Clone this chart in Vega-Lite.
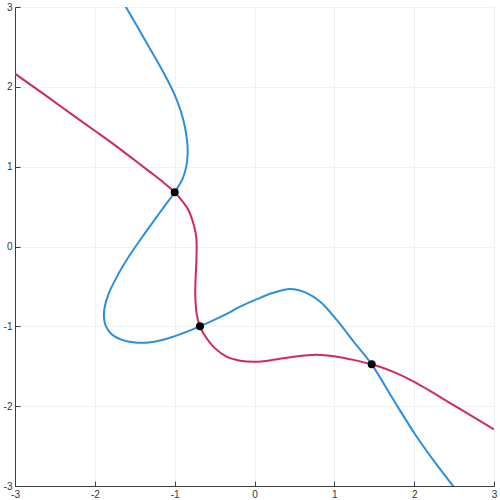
{
  "$schema": "https://vega.github.io/schema/vega-lite/v6.json",
  "width": 479,
  "height": 479,
  "autosize": {"type": "none"},
  "padding": {"left": 15, "top": 7, "right": 6, "bottom": 14},
  "background": "white",
  "config": {
    "view": {"stroke": null},
    "axis": {
      "grid": true,
      "gridColor": "#f1f1f1",
      "gridWidth": 1,
      "domainColor": "#3c3c3c",
      "domainWidth": 1,
      "tickColor": "#3c3c3c",
      "tickSize": -5,
      "labelPadding": 8,
      "labelFont": "Liberation Sans",
      "labelFontSize": 10,
      "labelColor": "#333333",
      "labelFlush": false,
      "labelOverlap": false,
      "labelBound": false,
      "title": null
    }
  },
  "datasets": {
    "curves": [
      {"curve": "red", "t": 0, "x": -3.0, "y": 2.165},
      {"curve": "red", "t": 1, "x": -2.6, "y": 1.88},
      {"curve": "red", "t": 2, "x": -2.31, "y": 1.67},
      {"curve": "red", "t": 3, "x": -2.0, "y": 1.45},
      {"curve": "red", "t": 4, "x": -1.75, "y": 1.27},
      {"curve": "red", "t": 5, "x": -1.5, "y": 1.08},
      {"curve": "red", "t": 6, "x": -1.31, "y": 0.935},
      {"curve": "red", "t": 7, "x": -1.15, "y": 0.81},
      {"curve": "red", "t": 8, "x": -1.0, "y": 0.68},
      {"curve": "red", "t": 9, "x": -0.93, "y": 0.6},
      {"curve": "red", "t": 10, "x": -0.83, "y": 0.46},
      {"curve": "red", "t": 11, "x": -0.755, "y": 0.25},
      {"curve": "red", "t": 12, "x": -0.728, "y": 0.1},
      {"curve": "red", "t": 13, "x": -0.727, "y": -0.15},
      {"curve": "red", "t": 14, "x": -0.738, "y": -0.4},
      {"curve": "red", "t": 15, "x": -0.742, "y": -0.6},
      {"curve": "red", "t": 16, "x": -0.725, "y": -0.84},
      {"curve": "red", "t": 17, "x": -0.683, "y": -1.0},
      {"curve": "red", "t": 18, "x": -0.6, "y": -1.15},
      {"curve": "red", "t": 19, "x": -0.5, "y": -1.27},
      {"curve": "red", "t": 20, "x": -0.35, "y": -1.38},
      {"curve": "red", "t": 21, "x": -0.18, "y": -1.43},
      {"curve": "red", "t": 22, "x": 0.0, "y": -1.443},
      {"curve": "red", "t": 23, "x": 0.235, "y": -1.42},
      {"curve": "red", "t": 24, "x": 0.486, "y": -1.38},
      {"curve": "red", "t": 25, "x": 0.78, "y": -1.355},
      {"curve": "red", "t": 26, "x": 1.03, "y": -1.38},
      {"curve": "red", "t": 27, "x": 1.24, "y": -1.42},
      {"curve": "red", "t": 28, "x": 1.468, "y": -1.476},
      {"curve": "red", "t": 29, "x": 1.74, "y": -1.57},
      {"curve": "red", "t": 30, "x": 1.99, "y": -1.69},
      {"curve": "red", "t": 31, "x": 2.5, "y": -1.99},
      {"curve": "red", "t": 32, "x": 3.0, "y": -2.29},
      {"curve": "blue", "t": 0, "x": -1.64, "y": 3.05},
      {"curve": "blue", "t": 1, "x": -1.35, "y": 2.55},
      {"curve": "blue", "t": 2, "x": -1.14, "y": 2.18},
      {"curve": "blue", "t": 3, "x": -1.0, "y": 1.9},
      {"curve": "blue", "t": 4, "x": -0.925, "y": 1.7},
      {"curve": "blue", "t": 5, "x": -0.872, "y": 1.5},
      {"curve": "blue", "t": 6, "x": -0.842, "y": 1.3},
      {"curve": "blue", "t": 7, "x": -0.838, "y": 1.15},
      {"curve": "blue", "t": 8, "x": -0.855, "y": 1.0},
      {"curve": "blue", "t": 9, "x": -0.9, "y": 0.85},
      {"curve": "blue", "t": 10, "x": -1.0, "y": 0.68},
      {"curve": "blue", "t": 11, "x": -1.16, "y": 0.46},
      {"curve": "blue", "t": 12, "x": -1.37, "y": 0.17},
      {"curve": "blue", "t": 13, "x": -1.57, "y": -0.12},
      {"curve": "blue", "t": 14, "x": -1.73, "y": -0.39},
      {"curve": "blue", "t": 15, "x": -1.83, "y": -0.6},
      {"curve": "blue", "t": 16, "x": -1.88, "y": -0.78},
      {"curve": "blue", "t": 17, "x": -1.885, "y": -0.9},
      {"curve": "blue", "t": 18, "x": -1.86, "y": -1.0},
      {"curve": "blue", "t": 19, "x": -1.79, "y": -1.1},
      {"curve": "blue", "t": 20, "x": -1.66, "y": -1.17},
      {"curve": "blue", "t": 21, "x": -1.5, "y": -1.203},
      {"curve": "blue", "t": 22, "x": -1.3, "y": -1.2},
      {"curve": "blue", "t": 23, "x": -1.08, "y": -1.15},
      {"curve": "blue", "t": 24, "x": -0.683, "y": -1.0},
      {"curve": "blue", "t": 25, "x": -0.4, "y": -0.87},
      {"curve": "blue", "t": 26, "x": -0.18, "y": -0.754},
      {"curve": "blue", "t": 27, "x": 0.03, "y": -0.66},
      {"curve": "blue", "t": 28, "x": 0.235, "y": -0.58},
      {"curve": "blue", "t": 29, "x": 0.445, "y": -0.532},
      {"curve": "blue", "t": 30, "x": 0.65, "y": -0.58},
      {"curve": "blue", "t": 31, "x": 0.82, "y": -0.69},
      {"curve": "blue", "t": 32, "x": 1.03, "y": -0.92},
      {"curve": "blue", "t": 33, "x": 1.24, "y": -1.19},
      {"curve": "blue", "t": 34, "x": 1.468, "y": -1.476},
      {"curve": "blue", "t": 35, "x": 1.74, "y": -1.92},
      {"curve": "blue", "t": 36, "x": 2.03, "y": -2.38},
      {"curve": "blue", "t": 37, "x": 2.28, "y": -2.73},
      {"curve": "blue", "t": 38, "x": 2.55, "y": -3.08}
    ],
    "roots": [
      {"x": -1.0, "y": 0.68},
      {"x": -0.683, "y": -1.0},
      {"x": 1.468, "y": -1.476}
    ]
  },
  "layer": [
    {
      "data": {"name": "curves"},
      "mark": {"type": "line", "interpolate": "catmull-rom", "strokeWidth": 2, "clip": true},
      "encoding": {
        "x": {
          "field": "x", "type": "quantitative",
          "scale": {"domain": [-3, 3], "nice": false, "zero": false},
          "axis": {"values": [-3, -2, -1, 0, 1, 2, 3], "labelExpr": "toString(datum.value)"}
        },
        "y": {
          "field": "y", "type": "quantitative",
          "scale": {"domain": [-3, 3], "nice": false, "zero": false},
          "axis": {"values": [-3, -2, -1, 0, 1, 2, 3], "labelExpr": "toString(datum.value)"}
        },
        "order": {"field": "t", "type": "quantitative"},
        "detail": {"field": "curve"},
        "color": {
          "field": "curve",
          "type": "nominal",
          "scale": {"domain": ["red", "blue"], "range": ["#cc2c5c", "#2b8fdc"]},
          "legend": null
        }
      }
    },
    {
      "data": {"name": "roots"},
      "mark": {"type": "point", "filled": true, "shape": "circle", "size": 64, "color": "black", "opacity": 1},
      "encoding": {
        "x": {"field": "x", "type": "quantitative"},
        "y": {"field": "y", "type": "quantitative"}
      }
    }
  ]
}
